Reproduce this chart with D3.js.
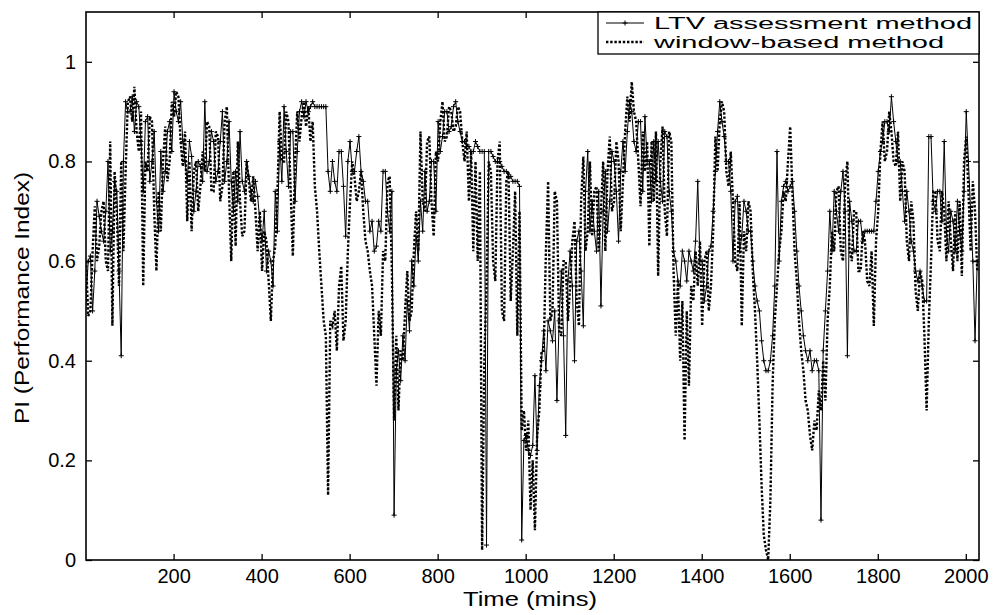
<!DOCTYPE html>
<html><head><meta charset="utf-8">
<script src="https://cdn.jsdelivr.net/npm/d3@7"></script>
<style>body{margin:0;background:#fff}svg{display:block}</style>
</head><body>
<svg id="chart" width="995" height="615"></svg>
<script>
// Sample times (mins), one reading every 5 minutes
const minutes = d3.range(1, 2030, 5);

// PI of the LTV assessment method
const ltv = [
  0.52,0.60,0.61,0.50,0.58,0.72,0.69,0.66,0.64,0.70,0.80,0.62,0.66,0.76,0.74,0.58,0.41,0.80,0.92,0.90,
  0.90,0.93,0.86,0.92,0.91,0.84,0.74,0.88,0.89,0.76,0.80,0.86,0.72,0.66,0.82,0.74,0.78,0.86,0.88,0.82,
  0.94,0.90,0.88,0.92,0.84,0.80,0.76,0.84,0.81,0.70,0.74,0.80,0.79,0.76,0.92,0.78,0.80,0.86,0.84,0.76,
  0.78,0.84,0.90,0.76,0.80,0.88,0.76,0.70,0.78,0.72,0.86,0.76,0.74,0.80,0.77,0.74,0.72,0.76,0.73,0.68,
  0.64,0.70,0.58,0.62,0.60,0.55,0.74,0.66,0.84,0.76,0.91,0.82,0.75,0.86,0.86,0.72,0.82,0.90,0.92,0.89,
  0.92,0.90,0.91,0.92,0.91,0.91,0.91,0.91,0.91,0.91,0.78,0.74,0.80,0.76,0.74,0.82,0.82,0.75,0.65,0.80,
  0.84,0.78,0.78,0.82,0.85,0.78,0.76,0.72,0.72,0.66,0.68,0.62,0.63,0.68,0.66,0.78,0.78,0.70,0.66,0.74,
  0.09,0.38,0.42,0.36,0.45,0.40,0.52,0.46,0.60,0.55,0.65,0.60,0.72,0.66,0.78,0.70,0.72,0.80,0.80,0.70,
  0.88,0.82,0.85,0.90,0.90,0.86,0.87,0.91,0.92,0.88,0.86,0.84,0.84,0.83,0.83,0.82,0.82,0.84,0.83,0.82,
  0.82,0.82,0.03,0.82,0.82,0.81,0.80,0.80,0.80,0.79,0.78,0.78,0.77,0.77,0.76,0.76,0.76,0.75,0.04,0.24,
  0.25,0.22,0.21,0.23,0.37,0.22,0.35,0.40,0.46,0.38,0.48,0.46,0.44,0.50,0.32,0.48,0.58,0.45,0.25,0.56,
  0.62,0.55,0.40,0.64,0.66,0.58,0.47,0.74,0.82,0.66,0.72,0.66,0.62,0.74,0.51,0.70,0.78,0.66,0.72,0.82,
  0.80,0.74,0.64,0.78,0.84,0.78,0.86,0.92,0.90,0.84,0.82,0.88,0.88,0.74,0.89,0.80,0.80,0.72,0.84,0.76,
  0.84,0.76,0.72,0.86,0.85,0.74,0.70,0.62,0.60,0.56,0.55,0.62,0.60,0.56,0.62,0.60,0.58,0.64,0.76,0.60,
  0.60,0.52,0.55,0.62,0.63,0.70,0.78,0.86,0.92,0.88,0.85,0.80,0.80,0.74,0.60,0.72,0.73,0.62,0.65,0.72,
  0.70,0.66,0.66,0.60,0.55,0.52,0.50,0.44,0.40,0.38,0.38,0.40,0.45,0.55,0.82,0.60,0.72,0.75,0.76,0.74,
  0.75,0.76,0.70,0.62,0.55,0.50,0.45,0.42,0.40,0.42,0.38,0.40,0.40,0.38,0.08,0.42,0.50,0.58,0.70,0.62,
  0.74,0.70,0.66,0.74,0.78,0.70,0.41,0.72,0.68,0.62,0.62,0.68,0.68,0.64,0.66,0.66,0.66,0.66,0.66,0.72,
  0.78,0.82,0.84,0.88,0.88,0.86,0.93,0.88,0.84,0.80,0.80,0.74,0.68,0.74,0.70,0.64,0.62,0.58,0.56,0.58,
  0.55,0.52,0.52,0.85,0.85,0.72,0.70,0.74,0.74,0.68,0.84,0.66,0.62,0.70,0.68,0.62,0.72,0.66,0.62,0.74,
  0.90,0.80,0.70,0.60,0.44,0.60
];

// PI of the window-based method
const windowBased = [
  0.60,0.49,0.50,0.62,0.71,0.60,0.63,0.70,0.72,0.60,0.58,0.84,0.47,0.78,0.70,0.55,0.80,0.62,0.78,0.92,
  0.93,0.88,0.95,0.86,0.82,0.90,0.55,0.80,0.78,0.89,0.88,0.70,0.58,0.74,0.66,0.80,0.87,0.76,0.80,0.92,
  0.89,0.94,0.93,0.84,0.79,0.86,0.68,0.80,0.66,0.78,0.80,0.70,0.75,0.82,0.78,0.88,0.87,0.74,0.74,0.86,
  0.85,0.72,0.75,0.88,0.91,0.74,0.60,0.78,0.63,0.84,0.72,0.65,0.66,0.80,0.76,0.72,0.77,0.70,0.62,0.70,
  0.58,0.66,0.64,0.56,0.48,0.60,0.63,0.74,0.90,0.80,0.80,0.90,0.88,0.74,0.61,0.80,0.90,0.84,0.89,0.92,
  0.87,0.91,0.84,0.88,0.75,0.70,0.62,0.55,0.48,0.45,0.13,0.48,0.47,0.50,0.42,0.55,0.59,0.44,0.48,0.62,
  0.72,0.80,0.77,0.72,0.74,0.78,0.70,0.64,0.62,0.58,0.55,0.45,0.35,0.50,0.45,0.62,0.60,0.76,0.77,0.58,
  0.28,0.45,0.30,0.42,0.40,0.50,0.58,0.48,0.50,0.62,0.70,0.62,0.86,0.72,0.70,0.84,0.85,0.72,0.65,0.82,
  0.80,0.88,0.92,0.84,0.85,0.91,0.90,0.86,0.87,0.91,0.90,0.84,0.80,0.86,0.72,0.82,0.62,0.80,0.60,0.78,
  0.02,0.40,0.55,0.80,0.78,0.60,0.56,0.80,0.84,0.50,0.48,0.76,0.78,0.52,0.62,0.74,0.45,0.70,0.26,0.30,
  0.22,0.28,0.10,0.20,0.06,0.25,0.30,0.42,0.42,0.62,0.76,0.48,0.50,0.74,0.72,0.46,0.45,0.60,0.60,0.48,
  0.55,0.64,0.68,0.52,0.47,0.72,0.81,0.62,0.66,0.80,0.65,0.74,0.75,0.62,0.70,0.80,0.62,0.78,0.85,0.70,
  0.72,0.84,0.80,0.66,0.76,0.86,0.93,0.88,0.96,0.90,0.88,0.80,0.71,0.86,0.78,0.84,0.63,0.84,0.72,0.86,
  0.57,0.80,0.87,0.70,0.65,0.86,0.84,0.58,0.45,0.56,0.40,0.52,0.24,0.50,0.35,0.55,0.52,0.62,0.55,0.64,
  0.47,0.60,0.62,0.50,0.55,0.66,0.85,0.78,0.88,0.92,0.90,0.78,0.75,0.82,0.72,0.60,0.58,0.72,0.47,0.66,
  0.62,0.72,0.70,0.58,0.50,0.40,0.28,0.15,0.05,0.02,0.00,0.12,0.35,0.48,0.55,0.62,0.66,0.74,0.72,0.80,
  0.87,0.74,0.62,0.56,0.48,0.42,0.38,0.32,0.30,0.25,0.22,0.28,0.26,0.34,0.30,0.40,0.32,0.48,0.55,0.66,
  0.62,0.74,0.75,0.62,0.60,0.76,0.80,0.62,0.60,0.70,0.70,0.58,0.58,0.66,0.64,0.56,0.55,0.62,0.47,0.64,
  0.70,0.82,0.88,0.80,0.82,0.90,0.86,0.80,0.79,0.86,0.72,0.80,0.78,0.64,0.60,0.72,0.68,0.54,0.50,0.58,
  0.56,0.45,0.30,0.48,0.60,0.74,0.74,0.64,0.62,0.74,0.70,0.60,0.72,0.64,0.58,0.70,0.60,0.72,0.57,0.80,
  0.85,0.74,0.62,0.76,0.70,0.58
];

const xTicks = [200, 400, 600, 800, 1000, 1200, 1400, 1600, 1800, 2000];
const yTicks = [0, 0.2, 0.4, 0.6, 0.8, 1];
const seriesNames = ["LTV assessment method", "window-based method"];

const plot = {left: 86, right: 979, top: 12, bottom: 560};
const font = "'Liberation Sans', Arial, sans-serif";

const svg = d3.select("#chart");
const x = d3.scaleLinear().domain([1, 2030]).range([plot.left, plot.right]);
const y = d3.scaleLinear().domain([0, 1.1]).range([plot.bottom, plot.top]);

svg.append("defs").append("clipPath").attr("id", "plotClip")
  .append("rect").attr("x", plot.left).attr("y", plot.top)
  .attr("width", plot.right - plot.left).attr("height", plot.bottom - plot.top);

const ltvData = minutes.map((t, i) => ({t, v: ltv[i]}));
const winData = minutes.map((t, i) => ({t, v: windowBased[i]}));
const line = d3.line().x(d => x(d.t)).y(d => y(d.v));

const g = svg.append("g").attr("clip-path", "url(#plotClip)");

// window-based method: heavy dotted line
g.append("path").datum(winData)
  .attr("d", line).attr("fill", "none")
  .attr("stroke", "#000").attr("stroke-width", 2.4)
  .attr("stroke-dasharray", "2.4,1.8");

// LTV method: thin solid line with + markers
g.append("path").datum(ltvData)
  .attr("d", line).attr("fill", "none")
  .attr("stroke", "#000").attr("stroke-width", 1);
g.selectAll("path.mk").data(ltvData).enter().append("path")
  .attr("class", "mk")
  .attr("transform", d => `translate(${x(d.t)},${y(d.v)})`)
  .attr("d", "M-2.5,0H2.5M0,-2.5V2.5")
  .attr("stroke", "#000").attr("stroke-width", 1);

// Axes: ticks inward on all four sides, box around the plot
const tickLen = 6;
const xAxisB = d3.axisBottom(x).tickValues(xTicks).tickSizeInner(-tickLen).tickSizeOuter(0).tickPadding(9).tickFormat(d3.format("d"));
const xAxisT = d3.axisTop(x).tickValues(xTicks).tickSizeInner(-tickLen).tickSizeOuter(0).tickFormat("");
const yAxisL = d3.axisLeft(y).tickValues(yTicks).tickSizeInner(-tickLen).tickSizeOuter(0).tickPadding(10).tickFormat(d3.format("~g"));
const yAxisR = d3.axisRight(y).tickValues(yTicks).tickSizeInner(-tickLen).tickSizeOuter(0).tickFormat("");

function styleAxis(sel) {
  sel.select(".domain").remove();
  sel.selectAll(".tick line").attr("stroke", "#000").attr("stroke-width", 1.3);
  sel.selectAll(".tick text").attr("fill", "#000").style("font-family", font).style("font-size", "20px");
}
svg.append("g").attr("transform", `translate(0,${plot.bottom})`).call(xAxisB).call(styleAxis);
svg.append("g").attr("transform", `translate(0,${plot.top})`).call(xAxisT).call(styleAxis);
svg.append("g").attr("transform", `translate(${plot.left},0)`).call(yAxisL).call(styleAxis);
svg.append("g").attr("transform", `translate(${plot.right},0)`).call(yAxisR).call(styleAxis);

svg.append("rect").attr("x", plot.left).attr("y", plot.top)
  .attr("width", plot.right - plot.left).attr("height", plot.bottom - plot.top)
  .attr("fill", "none").attr("stroke", "#000").attr("stroke-width", 1.6);

// Axis titles
svg.append("text").attr("x", 530).attr("y", 606)
  .attr("text-anchor", "middle").style("font-family", font).style("font-size", "20px")
  .attr("textLength", 134).attr("lengthAdjust", "spacingAndGlyphs")
  .text("Time (mins)");
svg.append("text").attr("transform", `translate(29,298) rotate(-90)`)
  .attr("text-anchor", "middle").style("font-family", font).style("font-size", "20px")
  .attr("textLength", 252).attr("lengthAdjust", "spacingAndGlyphs")
  .text("PI (Performance Index)");

// Legend
const lg = svg.append("g").attr("transform", "translate(598,12)");
lg.append("rect").attr("width", 381).attr("height", 42)
  .attr("fill", "#fff").attr("stroke", "#000").attr("stroke-width", 1.3);
const rows = lg.selectAll("g.row").data(seriesNames).enter().append("g")
  .attr("transform", (d, i) => `translate(0,${11 + i * 19})`);
rows.append("line").attr("x1", 8).attr("x2", 46).attr("y1", 0).attr("y2", 0)
  .attr("stroke", "#000")
  .attr("stroke-width", (d, i) => i ? 2.4 : 1)
  .attr("stroke-dasharray", (d, i) => i ? "2.4,1.8" : null);
rows.filter((d, i) => i === 0).append("path")
  .attr("d", "M27,-2.5V2.5M24.5,0H29.5").attr("stroke", "#000");
rows.append("text").attr("x", 56).attr("y", 6)
  .style("font-family", font).style("font-size", "16px")
  .attr("textLength", (d, i) => i ? 290 : 318).attr("lengthAdjust", "spacingAndGlyphs")
  .text(d => d);
</script>
</body></html>
